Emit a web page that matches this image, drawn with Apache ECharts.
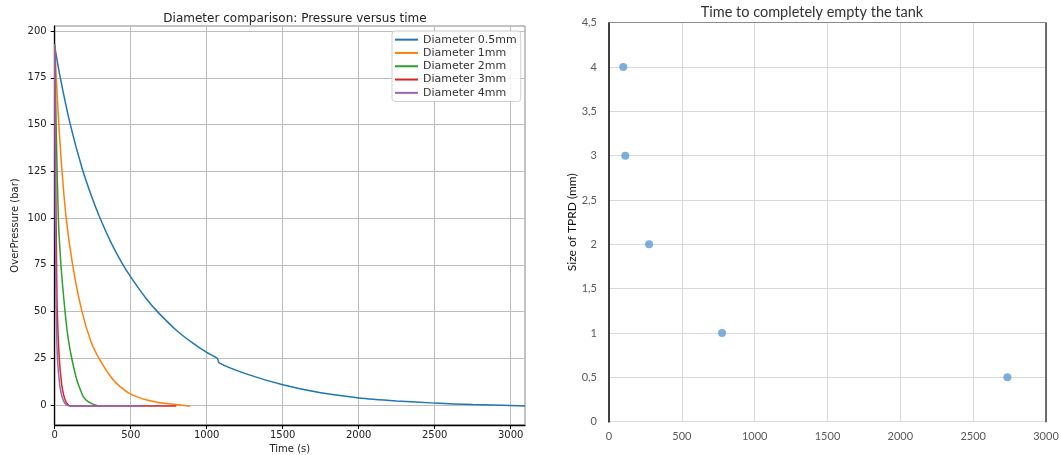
<!DOCTYPE html>
<html><head><meta charset="utf-8">
<script src="https://cdn.jsdelivr.net/npm/echarts@6/dist/echarts.min.js"></script>
<style>html,body{margin:0;padding:0;background:#fff}#c{width:1061px;height:455px}</style>
</head><body><div id="c"></div>
<script>
// ---- Left chart: pressure versus time ----
const seriesNames = ['Diameter 0.5mm', 'Diameter 1mm', 'Diameter 2mm', 'Diameter 3mm', 'Diameter 4mm'];
const seriesColors = ['#1f77b4', '#ff7f0e', '#2ca02c', '#d62728', '#9467bd'];

const t05 = [0, 35, 100, 180, 240, 298, 370, 441, 500, 600, 682, 800, 900, 1000, 1070, 1082, 1250, 1500, 1750, 2000, 2250, 2500, 2750, 3000, 3094];
const p05 = [192, 175.8, 150.9, 126.6, 112.2, 100, 87, 76.2, 68.5, 57.1, 49.4, 40, 33.6, 28.1, 24.9, 22.5, 16.9, 10.8, 6.5, 3.8, 2.2, 1.0, 0.2, -0.3, -0.5];

const t1 = [0, 20, 40, 74, 118, 178, 240, 298, 370, 430, 500, 600, 693, 800, 890];
const p1 = [193, 160, 134, 101, 75, 50.5, 33.6, 24, 15, 9.8, 5.8, 2.8, 1.2, 0.25, -0.7];

const t2 = [0, 12, 24, 41, 68, 88, 112, 140, 160, 188, 220, 255, 287];
const p2 = [193, 140, 100, 75, 50, 36, 25, 15, 10, 4.5, 1.8, 0.3, -0.5];

const t3 = [0, 4, 9, 13, 17, 30, 46, 60, 75, 90, 105, 800];
const p3 = [192, 150, 100, 70, 50, 25, 11, 5, 1.5, 0, -0.5, -0.5];

const t4 = [0, 2, 4, 7, 10, 18, 34, 50, 65, 85, 100, 565];
const p4 = [192.5, 150, 100, 70, 50, 25, 10, 4, 1.2, -0.3, -0.5, -0.5];

const timeTicks = [0, 500, 1000, 1500, 2000, 2500, 3000];
const pressureTicks = [0, 25, 50, 75, 100, 125, 150, 175, 200];

// ---- Right chart: time to empty ----
const emptyTimes = [98, 112, 275, 776, 2735];
const tprdSizes = [4, 3, 2, 1, 0.5];

const zip = (a, b) => a.map((v, i) => [v, b[i]]);
const lineData = [zip(t05, p05), zip(t1, p1), zip(t2, p2), zip(t3, p3), zip(t4, p4)];

const mplFont = 'DejaVu Sans';
const xlFont = 'Lato';
const comma = v => String(v).replace('.', ',');

const chart = echarts.init(document.getElementById('c'), null, {renderer: 'canvas'});
chart.setOption({
  animation: false,
  backgroundColor: '#fff',
  title: [
    {text: 'Diameter comparison: Pressure versus time', left: 290, top: 8, textAlign: 'center',
     textStyle: {fontFamily: mplFont, fontSize: 12, fontWeight: 'normal', color: '#222'}},
    {text: 'Time to completely empty the tank', left: 807, top: 0, textAlign: 'center',
     textStyle: {fontFamily: xlFont, fontSize: 14.5, fontWeight: 'normal', color: '#333'}}
  ],
  legend: {
    data: seriesNames,
    left: 392, top: 31, orient: 'vertical',
    icon: 'rect', itemWidth: 23, itemHeight: 2, itemGap: 0,
    padding: [2, 4, 2, 3],
    borderColor: '#d0d0d0', borderWidth: 1, borderRadius: 3,
    backgroundColor: 'rgba(255,255,255,0.85)',
    textStyle: {fontFamily: mplFont, fontSize: 11, color: '#333', lineHeight: 13.3}
  },
  grid: [
    {left: 54.7, right: 536, top: 26, bottom: 30, show: true, borderColor: '#888', borderWidth: 1,
     containLabel: false, outerBoundsMode: 'none'},
    {left: 609, right: 15, top: 22.7, bottom: 33.3, show: false, containLabel: false, outerBoundsMode: 'none'}
  ],
  xAxis: [
    {type: 'value', gridIndex: 0, min: 0, max: 3094, interval: 500,
     name: 'Time (s)', nameLocation: 'middle', nameGap: 16,
     nameTextStyle: {fontFamily: mplFont, fontSize: 10, color: '#222'},
     axisLine: {show: true, onZero: false, lineStyle: {color: '#000', width: 1.3}},
     axisTick: {show: true, length: 4, lineStyle: {color: '#000'}, customValues: timeTicks},
     axisLabel: {fontFamily: mplFont, fontSize: 10, color: '#222', margin: 5, customValues: timeTicks,
       formatter: v => (v % 500 === 0 ? String(v) : '')},
     splitLine: {show: true, lineStyle: {color: '#bdbdbd', width: 1}}},
    {type: 'value', gridIndex: 1, min: 0, max: 3000, interval: 500,
     axisLine: {show: false}, axisTick: {show: false},
     axisLabel: {fontFamily: xlFont, fontSize: 11, color: '#595959', margin: 9, formatter: comma},
     splitLine: {show: true, lineStyle: {color: '#d9d9d9', width: 1}}},
    {type: 'value', gridIndex: 1, position: 'top', min: 0, max: 3000,
     axisLine: {show: true, onZero: false, lineStyle: {color: '#8c8c8c', width: 1}},
     axisTick: {show: false}, axisLabel: {show: false}, splitLine: {show: false}}
  ],
  yAxis: [
    {type: 'value', gridIndex: 0, min: -10.7, max: 202.7, splitNumber: 8, minInterval: 25, maxInterval: 25,
     name: 'OverPressure (bar)', nameLocation: 'middle', nameGap: 34,
     nameTextStyle: {fontFamily: mplFont, fontSize: 10, color: '#222'},
     axisLine: {show: true, onZero: false, lineStyle: {color: '#000', width: 1.3}},
     axisTick: {show: true, length: 4, lineStyle: {color: '#000'}, customValues: pressureTicks},
     axisLabel: {fontFamily: mplFont, fontSize: 10, color: '#222', margin: 8, customValues: pressureTicks,
       formatter: v => (Math.abs(v % 25) < 1e-6 ? String(v) : '')},
     splitLine: {show: true, lineStyle: {color: '#bdbdbd', width: 1}}},
    {type: 'value', gridIndex: 1, min: 0, max: 4.5, interval: 0.5,
     name: 'Size of TPRD (mm)', nameLocation: 'middle', nameGap: 31,
     nameTextStyle: {fontFamily: xlFont, fontSize: 12, color: '#111'},
     axisLine: {show: true, lineStyle: {color: '#404040', width: 2}},
     axisTick: {show: false},
     axisLabel: {fontFamily: xlFont, fontSize: 11, color: '#595959', margin: 12, formatter: comma},
     splitLine: {show: true, lineStyle: {color: '#d9d9d9', width: 1}}},
    {type: 'value', gridIndex: 1, position: 'right', min: 0, max: 4.5,
     axisLine: {show: true, onZero: false, lineStyle: {color: '#404040', width: 1.5}},
     axisTick: {show: false}, axisLabel: {show: false}, splitLine: {show: false}}
  ],
  series: [
    ...lineData.map((d, i) => ({
      name: seriesNames[i], type: 'line', xAxisIndex: 0, yAxisIndex: 0,
      data: d, smooth: 0.25, symbol: 'none', showSymbol: false,
      lineStyle: {color: seriesColors[i], width: 1.5}, itemStyle: {color: seriesColors[i]},
      z: 3 + i
    })),
    {type: 'scatter', xAxisIndex: 1, yAxisIndex: 1, data: zip(emptyTimes, tprdSizes),
     symbol: 'circle', symbolSize: 8, itemStyle: {color: '#5b9bd5'}}
  ]
});
</script>
</body></html>
